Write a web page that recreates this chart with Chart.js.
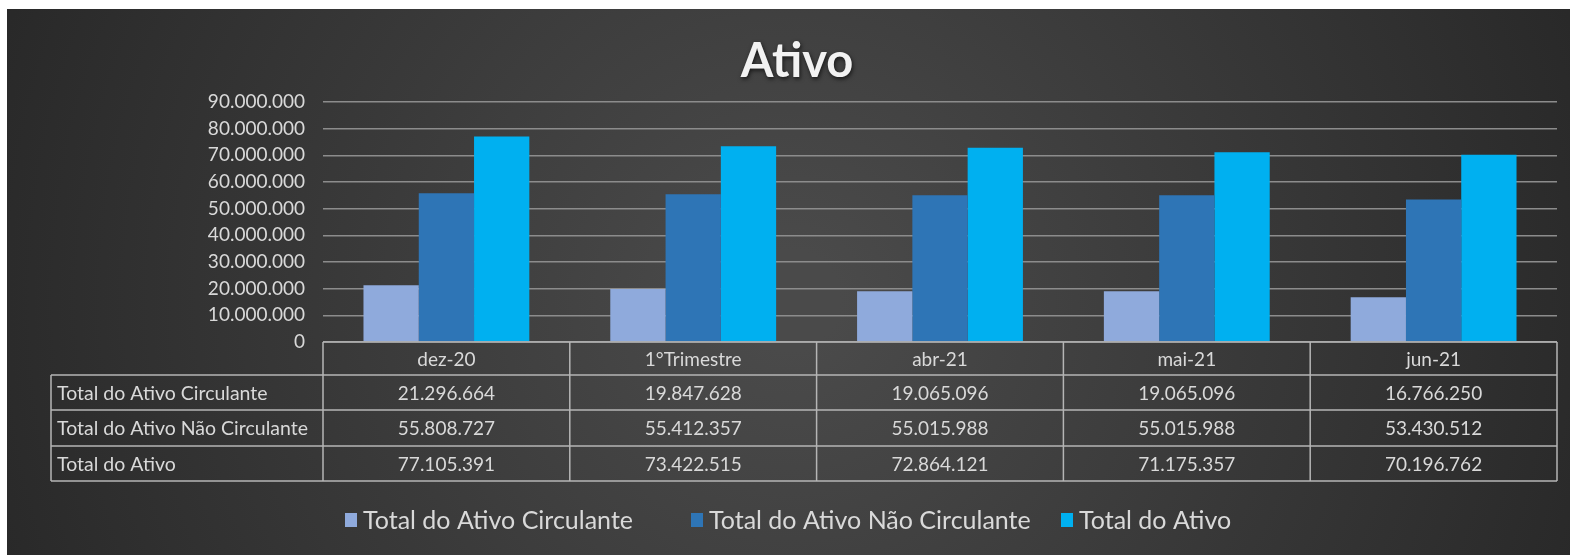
<!DOCTYPE html>
<html>
<head>
<meta charset="utf-8">
<script src="https://cdn.jsdelivr.net/npm/chart.js@4.4.1/dist/chart.umd.min.js"></script>
<style>
  html, body { margin: 0; padding: 0; background: #fff; }
  canvas { display: block; }
</style>
</head>
<body>
<canvas id="myChart" width="1570" height="555"></canvas>
<script>
// dados do grafico
var categories = ['dez-20', '1°Trimestre', 'abr-21', 'mai-21', 'jun-21'];
var seriesNames = ['Total do Ativo Circulante', 'Total do Ativo Não Circulante', 'Total do Ativo'];
var circulante = [21296664, 19847628, 19065096, 19065096, 16766250];
var naoCirculante = [55808727, 55412357, 55015988, 55015988, 53430512];
var totalAtivo = [77105391, 73422515, 72864121, 71175357, 70196762];
var yMax = 90000000;
var yStep = 10000000;

var colors = ['#8FAADC', '#2E75B6', '#00B0F0'];
var fontName = 'Lato, "Open Sans", sans-serif';

function fmt(v) {
    return String(Math.round(v)).replace(/\B(?=(\d{3})+(?!\d))/g, '.');
}

var seriesData = [circulante, naoCirculante, totalAtivo];

// fundo escuro com gradiente
var bgPlugin = {
    id: 'bg',
    beforeDraw: function (chart) {
        var ctx = chart.ctx;
        ctx.save();
        ctx.fillStyle = '#ffffff';
        ctx.fillRect(0, 0, chart.width, chart.height);
        var g = ctx.createRadialGradient(790, 300, 50, 790, 300, 900);
        g.addColorStop(0, '#4a4a4a');
        g.addColorStop(1, '#262626');
        ctx.fillStyle = g;
        ctx.fillRect(7, 9, chart.width - 7, chart.height - 9);
        ctx.restore();
    }
};

// tabela de dados, titulo e legenda
var tablePlugin = {
    id: 'dataTable',
    afterDraw: function (chart) {
        var ctx = chart.ctx;
        var xs = chart.scales.x;
        var area = chart.chartArea;
        var colW = (area.right - area.left) / categories.length;
        var rows = [area.bottom, area.bottom + 33, area.bottom + 68, area.bottom + 104, area.bottom + 139];
        var tableLeft = 51;

        ctx.save();
        ctx.strokeStyle = '#b5b5b5';
        ctx.lineWidth = 1.5;
        ctx.beginPath();
        ctx.moveTo(area.left, rows[0]);
        ctx.lineTo(area.right, rows[0]);
        for (var r = 1; r < rows.length; r++) {
            ctx.moveTo(tableLeft, rows[r]);
            ctx.lineTo(area.right, rows[r]);
        }
        ctx.moveTo(tableLeft, rows[1]);
        ctx.lineTo(tableLeft, rows[4]);
        for (var c = 0; c <= categories.length; c++) {
            var cx = area.left + c * colW;
            ctx.moveTo(cx, rows[0]);
            ctx.lineTo(cx, rows[4]);
        }
        ctx.stroke();

        ctx.fillStyle = '#d9d9d9';
        ctx.font = '19px ' + fontName;
        ctx.textBaseline = 'middle';
        ctx.textAlign = 'center';
        categories.forEach(function (cat, i) {
            var px = xs.getPixelForValue(i);
            ctx.fillText(cat, px, (rows[0] + rows[1]) / 2 + 1);
            for (var s = 0; s < seriesData.length; s++) {
                ctx.fillText(fmt(seriesData[s][i]), px, (rows[s + 1] + rows[s + 2]) / 2 + 1);
            }
        });
        ctx.textAlign = 'left';
        ctx.font = '19.5px ' + fontName;
        seriesNames.forEach(function (name, s) {
            ctx.fillText(name, 57, (rows[s + 1] + rows[s + 2]) / 2 + 1);
        });

        // titulo
        ctx.font = 'bold 47px ' + fontName;
        ctx.textAlign = 'center';
        ctx.textBaseline = 'alphabetic';
        ctx.shadowColor = 'rgba(0,0,0,0.65)';
        ctx.shadowBlur = 4;
        ctx.shadowOffsetX = 1;
        ctx.shadowOffsetY = 2;
        ctx.fillStyle = '#f2f2f2';
        ctx.fillText('Ativo', 797, 77);
        ctx.shadowColor = 'transparent';

        // legenda
        ctx.font = '25px ' + fontName;
        ctx.textBaseline = 'middle';
        ctx.textAlign = 'left';
        var itemX = [345, 691, 1061];
        var ly = 520;
        seriesNames.forEach(function (n, s) {
            ctx.fillStyle = colors[s];
            ctx.fillRect(itemX[s], ly - 7, 12, 14);
            ctx.fillStyle = '#d9d9d9';
            ctx.fillText(n, itemX[s] + 18, ly + 1);
        });
        ctx.restore();
    }
};

var chartData = {
    labels: categories,
    datasets: seriesNames.map(function (name, s) {
        return {
            label: name,
            data: seriesData[s],
            backgroundColor: colors[s],
            borderWidth: 0,
            categoryPercentage: 0.672,
            barPercentage: 1.0
        };
    })
};

var ctxChart = document.getElementById('myChart').getContext('2d');
var myChart = new Chart(ctxChart, {
    type: 'bar',
    data: chartData,
    options: {
        responsive: false,
        animation: false,
        devicePixelRatio: 1,
        layout: {
            padding: { top: 102, bottom: 213, left: 0, right: 13 }
        },
        plugins: {
            legend: { display: false },
            title: { display: false },
            tooltip: { enabled: false }
        },
        scales: {
            x: {
                display: false,
                offset: true
            },
            y: {
                min: 0,
                max: yMax,
                border: { display: false },
                grid: {
                    color: '#8c8c8c',
                    lineWidth: 1.6,
                    drawTicks: false
                },
                ticks: {
                    stepSize: yStep,
                    padding: 18,
                    color: '#d9d9d9',
                    font: { family: fontName, size: 19 },
                    callback: function (v) { return fmt(v); }
                },
                afterFit: function (scale) { scale.width = 323; }
            }
        }
    },
    plugins: [bgPlugin, tablePlugin]
});
</script>
</body>
</html>
